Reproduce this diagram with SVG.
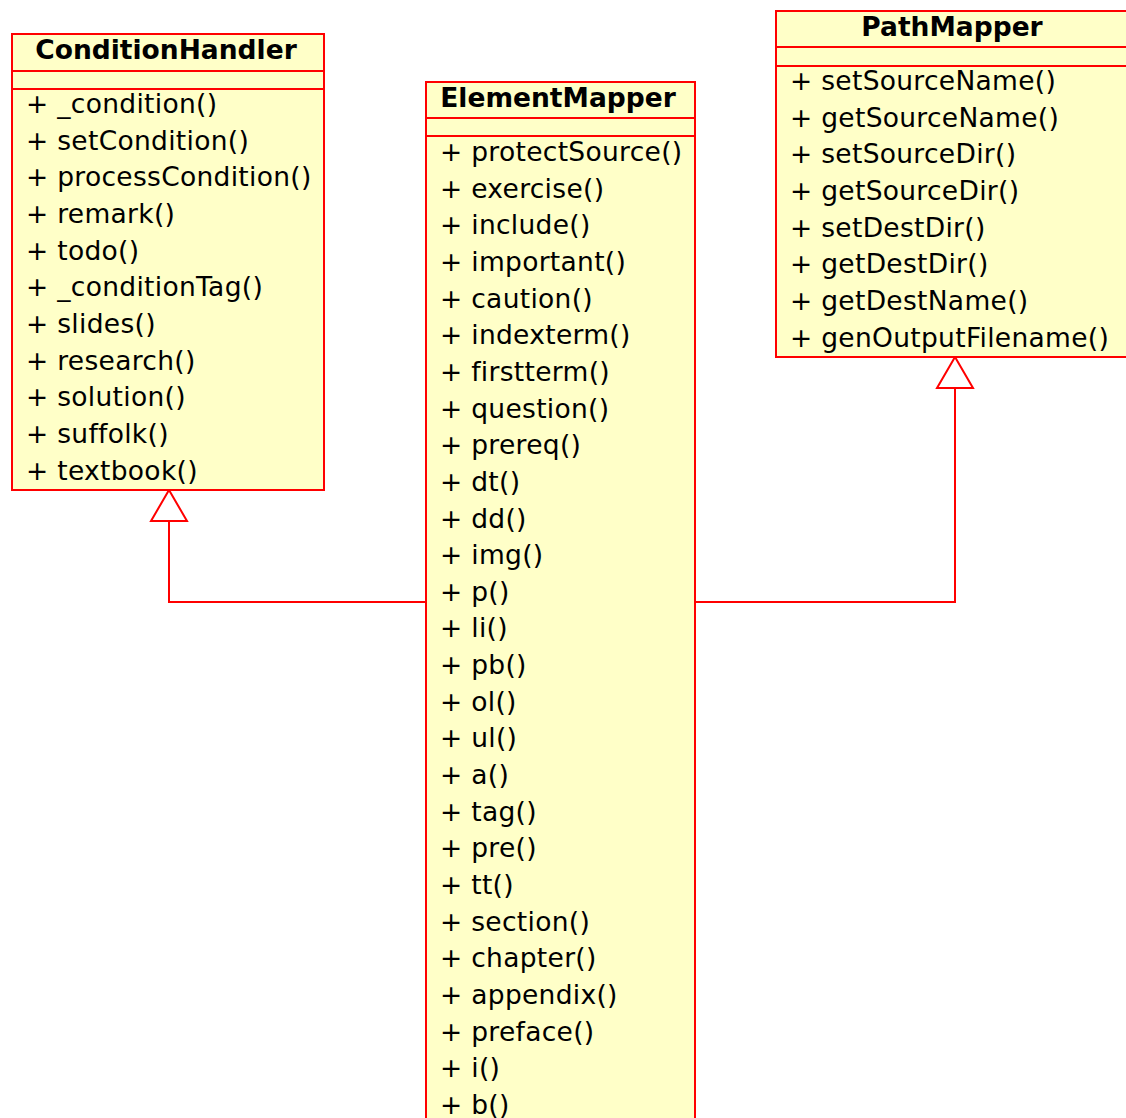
<svg xmlns="http://www.w3.org/2000/svg" width="1126" height="1118" viewBox="0 0 1126 1118">
<style>
.box{fill:#ffffc8;stroke:#ff0000;stroke-width:2}
.sep{stroke:#ff0000;stroke-width:2}
.hd{font-family:"DejaVu Sans",sans-serif;font-weight:bold;font-size:26.5px;text-anchor:middle;fill:#000}
.m{font-family:"DejaVu Sans",sans-serif;font-size:26.5px;letter-spacing:0.3px;fill:#000}
.c{fill:none;stroke:#ff0000;stroke-width:2}
.tri{fill:#fff;stroke:#ff0000;stroke-width:2}
</style>
<rect width="1126" height="1118" fill="#fff"/>
<g id="connectors">
<polyline class="c" points="426,602 169,602 169,521"/>
<polygon class="tri" points="169,490 151,521 187,521"/>
<polyline class="c" points="695,602 955,602 955,388"/>
<polygon class="tri" points="955,357 937,388 973,388"/>
</g>
<g id="ConditionHandler">
<rect class="box" x="12" y="34" width="312" height="456"/>
<line class="sep" x1="12" y1="71" x2="324" y2="71"/>
<line class="sep" x1="12" y1="89" x2="324" y2="89"/>
<text class="hd" x="166" y="59">ConditionHandler</text>
<text class="m" x="26" y="113">+ _condition()</text>
<text class="m" x="26" y="149.7">+ setCondition()</text>
<text class="m" x="26" y="186.3">+ processCondition()</text>
<text class="m" x="26" y="223">+ remark()</text>
<text class="m" x="26" y="259.6">+ todo()</text>
<text class="m" x="26" y="296.3">+ _conditionTag()</text>
<text class="m" x="26" y="333">+ slides()</text>
<text class="m" x="26" y="369.6">+ research()</text>
<text class="m" x="26" y="406.2">+ solution()</text>
<text class="m" x="26" y="443">+ suffolk()</text>
<text class="m" x="26" y="479.5">+ textbook()</text>
</g>
<g id="ElementMapper">
<rect class="box" x="426" y="82" width="269" height="1050"/>
<line class="sep" x1="426" y1="118" x2="695" y2="118"/>
<line class="sep" x1="426" y1="136" x2="695" y2="136"/>
<text class="hd" x="558" y="107">ElementMapper</text>
<text class="m" x="440" y="161">+ protectSource()</text>
<text class="m" x="440" y="197.6">+ exercise()</text>
<text class="m" x="440" y="234.3">+ include()</text>
<text class="m" x="440" y="271">+ important()</text>
<text class="m" x="440" y="307.6">+ caution()</text>
<text class="m" x="440" y="344.2">+ indexterm()</text>
<text class="m" x="440" y="380.9">+ firstterm()</text>
<text class="m" x="440" y="417.5">+ question()</text>
<text class="m" x="440" y="454.2">+ prereq()</text>
<text class="m" x="440" y="490.8">+ dt()</text>
<text class="m" x="440" y="527.5">+ dd()</text>
<text class="m" x="440" y="564.1">+ img()</text>
<text class="m" x="440" y="600.8">+ p()</text>
<text class="m" x="440" y="637.4">+ li()</text>
<text class="m" x="440" y="674">+ pb()</text>
<text class="m" x="440" y="710.7">+ ol()</text>
<text class="m" x="440" y="747.4">+ ul()</text>
<text class="m" x="440" y="784">+ a()</text>
<text class="m" x="440" y="820.6">+ tag()</text>
<text class="m" x="440" y="857.3">+ pre()</text>
<text class="m" x="440" y="894">+ tt()</text>
<text class="m" x="440" y="930.6">+ section()</text>
<text class="m" x="440" y="967.2">+ chapter()</text>
<text class="m" x="440" y="1003.9">+ appendix()</text>
<text class="m" x="440" y="1040.5">+ preface()</text>
<text class="m" x="440" y="1077.2">+ i()</text>
<text class="m" x="440" y="1113.8">+ b()</text>
</g>
<g id="PathMapper">
<rect class="box" x="776" y="11" width="360" height="346"/>
<line class="sep" x1="776" y1="47" x2="1136" y2="47"/>
<line class="sep" x1="776" y1="66" x2="1136" y2="66"/>
<text class="hd" x="952" y="36">PathMapper</text>
<text class="m" x="790" y="90">+ setSourceName()</text>
<text class="m" x="790" y="126.7">+ getSourceName()</text>
<text class="m" x="790" y="163.3">+ setSourceDir()</text>
<text class="m" x="790" y="200">+ getSourceDir()</text>
<text class="m" x="790" y="236.6">+ setDestDir()</text>
<text class="m" x="790" y="273.3">+ getDestDir()</text>
<text class="m" x="790" y="310">+ getDestName()</text>
<text class="m" x="790" y="346.6">+ genOutputFilename()</text>
</g>
</svg>
